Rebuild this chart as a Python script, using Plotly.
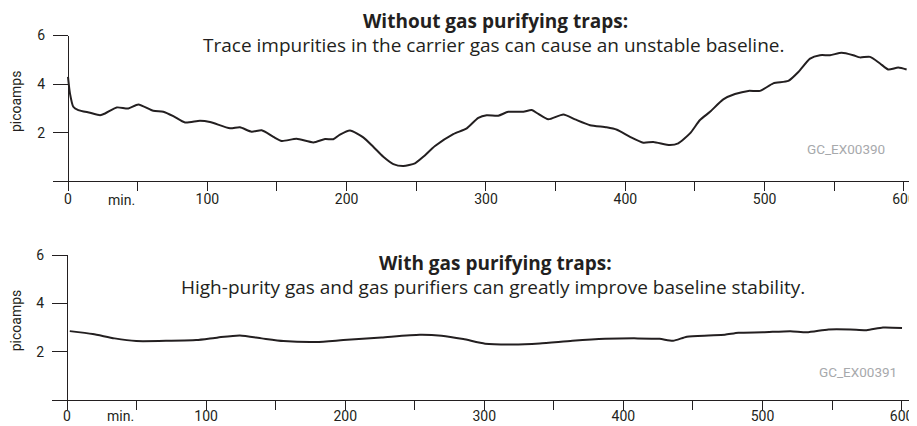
import plotly.graph_objects as go

# ---- data ----
top_x = [0, 1.4, 3.8, 7.4, 15.8, 23, 26.6, 35, 43.3, 50.5, 61.2, 68.4, 75.6, 84, 94.7, 101.9,
         116.3, 123.4, 131.8, 139, 147.4, 153.4, 164.1, 176.1, 184.5, 190.4, 195.2, 202.4,
         211.9, 219.1, 226.3, 233.5, 240.7, 249, 255, 263.4, 276.5, 286.2, 294.5, 300.5,
         308.8, 316, 326.8, 332.8, 337.6, 344.7, 355.5, 363.9, 374.7, 386.6, 394, 403.4,
         412.9, 420.1, 432, 438, 446.4, 453.6, 460.8, 470.3, 478.7, 488.3, 496.7, 506.2,
         517, 524.2, 532.6, 539.7, 546.9, 555.3, 563.6, 568.4, 575.6, 582.8, 588.7, 595.9, 601.9]
top_y = [4.3, 3.62, 3.07, 2.93, 2.82, 2.72, 2.79, 3.04, 3.0, 3.16, 2.90, 2.86, 2.68, 2.42, 2.49, 2.44,
         2.18, 2.22, 2.04, 2.10, 1.83, 1.66, 1.75, 1.60, 1.74, 1.73, 1.92, 2.09,
         1.81, 1.42, 1.01, 0.71, 0.63, 0.74, 1.01, 1.45, 1.94, 2.18, 2.61, 2.72,
         2.70, 2.86, 2.86, 2.93, 2.77, 2.55, 2.75, 2.55, 2.31, 2.22, 2.12, 1.83,
         1.59, 1.62, 1.49, 1.56, 1.97, 2.52, 2.86, 3.37, 3.59, 3.72, 3.72, 4.03,
         4.13, 4.50, 5.05, 5.19, 5.19, 5.29, 5.19, 5.10, 5.12, 4.85, 4.60, 4.68, 4.60]

bot_x = [2, 18.5, 34.2, 49.8, 73.3, 92.9, 108.6, 124.3, 140, 155.6, 179.2, 198.7, 226.1, 253.6,
         269.3, 284.9, 300.6, 320.2, 339.8, 363.3, 386.8, 410.3, 426, 435.7, 445.6, 461.2,
         473, 482.7, 500.4, 520, 531.8, 547.4, 563.1, 574.8, 586.6, 600.3]
bot_y = [2.85, 2.73, 2.55, 2.44, 2.45, 2.48, 2.59, 2.67, 2.55, 2.44, 2.40, 2.48, 2.59, 2.70,
         2.66, 2.52, 2.33, 2.30, 2.34, 2.45, 2.53, 2.55, 2.53, 2.45, 2.62, 2.67,
         2.70, 2.78, 2.80, 2.85, 2.80, 2.92, 2.92, 2.89, 3.00, 2.98]

x_tickvals = [0, 50, 100, 150, 200, 250, 300, 350, 400, 450, 500, 550, 600]
x_ticktext = ["0", "", "100", "", "200", "", "300", "", "400", "", "500", "", "600"]
y_tickvals = [2, 4, 6]
y_ticktext = ["2", "4", "6"]

titles = ["<b>Without gas purifying traps:</b>", "<b>With gas purifying traps:</b>"]
subtitles = ["Trace impurities in the carrier gas can cause an unstable baseline.",
             "High-purity gas and gas purifiers can greatly improve baseline stability."]
codes = ["GC_EX00390", "GC_EX00391"]

OFF = 8  # page body margin of the html page
W, H = 917 - OFF, 426 - OFF
INK = "#231f20"
NARROW = "Roboto, Liberation Sans Narrow, sans-serif"
TITLEF = "Open Sans, Noto Sans, sans-serif"

fig = go.Figure()
fig.add_trace(go.Scatter(x=top_x, y=top_y, mode="lines", xaxis="x", yaxis="y",
                         line=dict(color=INK, width=2, shape="spline", smoothing=0.6),
                         showlegend=False, hoverinfo="skip"))
fig.add_trace(go.Scatter(x=bot_x, y=bot_y, mode="lines", xaxis="x2", yaxis="y2",
                         line=dict(color=INK, width=2, shape="spline", smoothing=0.6),
                         showlegend=False, hoverinfo="skip"))

def px_to_fx(p):
    return (p - OFF) / W

def py_to_fy(p):
    return 1 - (p - OFF) / H

panels = [
    dict(l=53, r=913, x0=68, sx=1.3933, yb=181.3, yt=35.5, lab=-4, mn=19),
    dict(l=51.7, r=911.7, x0=67, sx=1.391, yb=400, yt=255, lab=-6, mn=16),
]

axis_common = dict(showgrid=False, zeroline=False, showline=True, linecolor=INK, linewidth=1.3,
                   ticks="outside", tickcolor=INK, tickwidth=1.3, automargin=False,
                   tickfont=dict(family=NARROW, size=14, color=INK))

layout = dict(width=W, height=H, margin=dict(l=0, r=0, t=0, b=0, autoexpand=False),
              paper_bgcolor="white", plot_bgcolor="white", showlegend=False)
annotations = []
for i, p in enumerate(panels):
    sfx = "" if i == 0 else str(i + 1)
    xr = [(p["l"] - p["x0"]) / p["sx"], (p["r"] - p["x0"]) / p["sx"]]
    layout["xaxis" + sfx] = dict(axis_common, domain=[px_to_fx(p["l"]), px_to_fx(p["r"])],
                                 range=xr, anchor="y" + sfx, tickvals=x_tickvals,
                                 ticktext=x_ticktext, ticklen=9, ticklabelstandoff=p["lab"])
    layout["yaxis" + sfx] = dict(axis_common, domain=[py_to_fy(p["yb"]), py_to_fy(p["yt"])],
                                 range=[0, 6], anchor="free", position=px_to_fx(p["x0"]),
                                 tickvals=y_tickvals, ticktext=y_ticktext, ticklen=15,
                                 ticklabelstandoff=5)
    annotations.append(dict(x=38.5, y=py_to_fy(p["yb"] + p["mn"]), xref="x" + sfx, yref="paper",
                            text="min.", showarrow=False, xanchor="center", yanchor="middle",
                            font=dict(family=NARROW, size=14, color=INK)))
    annotations.append(dict(x=px_to_fx(16), y=3.3, xref="paper", yref="y" + sfx,
                            text="picoamps", textangle=-90, showarrow=False,
                            xanchor="center", yanchor="middle",
                            font=dict(family=NARROW, size=14, color=INK)))

ttl_y = [21, 263]
sub_y = [45, 287]
code_pos = [(846, 149), (858, 372)]
for i in range(2):
    annotations.append(dict(x=px_to_fx(495), y=py_to_fy(ttl_y[i]), xref="paper", yref="paper",
                            text=titles[i], showarrow=False, xanchor="center", yanchor="middle",
                            font=dict(family=TITLEF, size=19, color=INK)))
    annotations.append(dict(x=px_to_fx(493), y=py_to_fy(sub_y[i]), xref="paper", yref="paper",
                            text=subtitles[i], showarrow=False, xanchor="center", yanchor="middle",
                            font=dict(family=TITLEF, size=19, color=INK)))
    annotations.append(dict(x=px_to_fx(code_pos[i][0]), y=py_to_fy(code_pos[i][1]),
                            xref="paper", yref="paper", text=codes[i], showarrow=False,
                            xanchor="center", yanchor="middle",
                            font=dict(family=NARROW, size=13.5, color="#a7a9ac")))

layout["annotations"] = annotations
fig.update_layout(**layout)
fig.write_html("out.html")
